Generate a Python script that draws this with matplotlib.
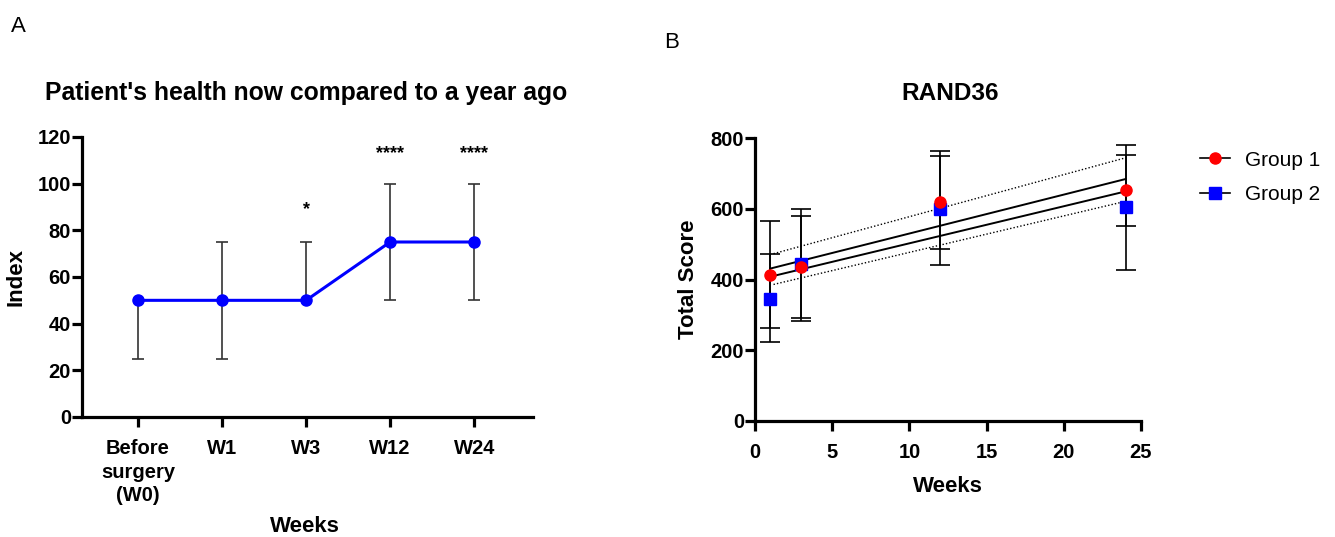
import numpy as np
import matplotlib
matplotlib.use("Agg")
import matplotlib.pyplot as plt
from matplotlib.lines import Line2D

plt.rcParams['font.family'] = ['Liberation Sans', 'DejaVu Sans']

# panel A: median with interquartile range
categories = ["Before\nsurgery\n(W0)", "W1", "W3", "W12", "W24"]
median_index = [50, 50, 50, 75, 75]
lower_index = [25, 25, 50, 50, 50]
upper_index = [50, 75, 75, 100, 100]
stars = ["", "", "*", "****", "****"]
star_y = [0, 0, 89, 113, 113]

# panel B: RAND36 total score
weeks = [1, 3, 12, 24]
g1_mean = [414, 435, 618, 652]
g1_up = [151, 165, 146, 129]
g1_down = [152, 153, 133, 101]
g2_mean = [345, 444, 600, 604]
g2_up = [126, 135, 150, 149]
g2_down = [122, 154, 160, 178]

# fitted lines and dotted band
fit_x = [1, 24]
fit1_y = [431, 684]
fit2_y = [408, 649]
band_x = [1.2, 24]
band_hi = [473, 744]
band_lo = [386, 621]

W, H = 1335, 537
fig = plt.figure(figsize=(W / 100, H / 100), dpi=100)

def px_axes(x0, y0, x1, y1):
    return fig.add_axes([x0 / W, 1 - y1 / H, (x1 - x0) / W, (y1 - y0) / H])

def style(ax):
    for s in ['top', 'right']:
        ax.spines[s].set_visible(False)
    for s in ['left', 'bottom']:
        ax.spines[s].set_linewidth(2.3)
    ax.tick_params(width=2.3, length=7, labelsize=14.5)
    ax.tick_params(axis='y', pad=1)
    ax.tick_params(axis='x', pad=9)
    for lab in ax.get_xticklabels() + ax.get_yticklabels():
        lab.set_fontweight('bold')

# ---- panel A
axA = px_axes(82, 137, 533, 417)
xs = np.arange(len(categories))
med = np.array(median_index)
lo = np.array(lower_index)
hi = np.array(upper_index)
# whiskers, caps only where the range leaves the median
axA.vlines(xs, lo, hi, color='#333333', lw=1.2, zorder=2)
axA.plot(xs[lo < med], lo[lo < med], ls='none', marker='_', ms=9, mew=1.2,
         color='#333333', zorder=2)
axA.plot(xs[hi > med], hi[hi > med], ls='none', marker='_', ms=9, mew=1.2,
         color='#333333', zorder=2)
axA.plot(xs, med, color='#0000ff', lw=2.2, marker='o', ms=8, zorder=3)
for x, s, y in zip(xs, stars, star_y):
    if s:
        axA.text(x, y, s, ha='center', va='center', fontsize=13, fontweight='bold')
axA.set_xlim(-0.667, 4.70)
axA.set_ylim(0, 120)
axA.set_yticks(range(0, 121, 20))
axA.set_xticks(xs)
axA.set_xticklabels(categories, linespacing=1.3)
style(axA)
axA.set_ylabel("Index", fontsize=16, fontweight='bold', labelpad=8)

fig.text(306 / W, 1 - 93 / H, "Patient's health now compared to a year ago",
         ha='center', va='center', fontsize=17.8, fontweight='bold')
fig.text(305 / W, 1 - 527 / H, "Weeks", ha='center', va='center',
         fontsize=16, fontweight='bold')
fig.text(18 / W, 1 - 27 / H, "A", ha='center', va='center', fontsize=16)

# ---- panel B
axB = px_axes(755, 138, 1141, 421)
axB.errorbar(weeks, g2_mean, yerr=[g2_down, g2_up], fmt='none', ecolor='black',
             elinewidth=1.2, capsize=7, capthick=1.2, zorder=2)
axB.errorbar(weeks, g1_mean, yerr=[g1_down, g1_up], fmt='none', ecolor='black',
             elinewidth=1.2, capsize=7, capthick=1.2, zorder=2)
axB.plot(fit_x, fit1_y, color='black', lw=1.4, zorder=3)
axB.plot(fit_x, fit2_y, color='black', lw=1.4, zorder=3)
axB.plot(band_x, band_hi, color='black', lw=1.0, ls=(0, (1, 1.5)), zorder=3)
axB.plot(band_x, band_lo, color='black', lw=1.0, ls=(0, (1, 1.5)), zorder=3)
axB.plot(weeks, g2_mean, ls='none', marker='s', ms=8, color='#0000ff', zorder=4)
axB.plot(weeks, g1_mean, ls='none', marker='o', ms=8, color='#ff0000', zorder=5)
axB.set_xlim(0, 25)
axB.set_ylim(0, 800)
axB.set_xticks(range(0, 26, 5))
axB.set_yticks(range(0, 801, 200))
style(axB)
axB.set_ylabel("Total Score", fontsize=16, fontweight='bold', labelpad=8)
axB.set_xlabel("Weeks", fontsize=16, fontweight='bold', labelpad=10)

fig.text(950 / W, 1 - 93 / H, "RAND36", ha='center', va='center',
         fontsize=17.6, fontweight='bold')
fig.text(672 / W, 1 - 43 / H, "B", ha='center', va='center', fontsize=16)

handles = [
    Line2D([], [], color='black', lw=1.2, marker='o', ms=8,
           markerfacecolor='#ff0000', markeredgecolor='#ff0000'),
    Line2D([], [], color='black', lw=1.2, marker='s', ms=8,
           markerfacecolor='#0000ff', markeredgecolor='#0000ff'),
]
fig.legend(handles, ["Group 1", "Group 2"], loc='upper left',
           bbox_to_anchor=(1181 / W, 1 - 132 / H), frameon=False,
           fontsize=15, handlelength=1.45, handletextpad=0.7, labelspacing=0.75)

fig.savefig("out.png", dpi=100)
